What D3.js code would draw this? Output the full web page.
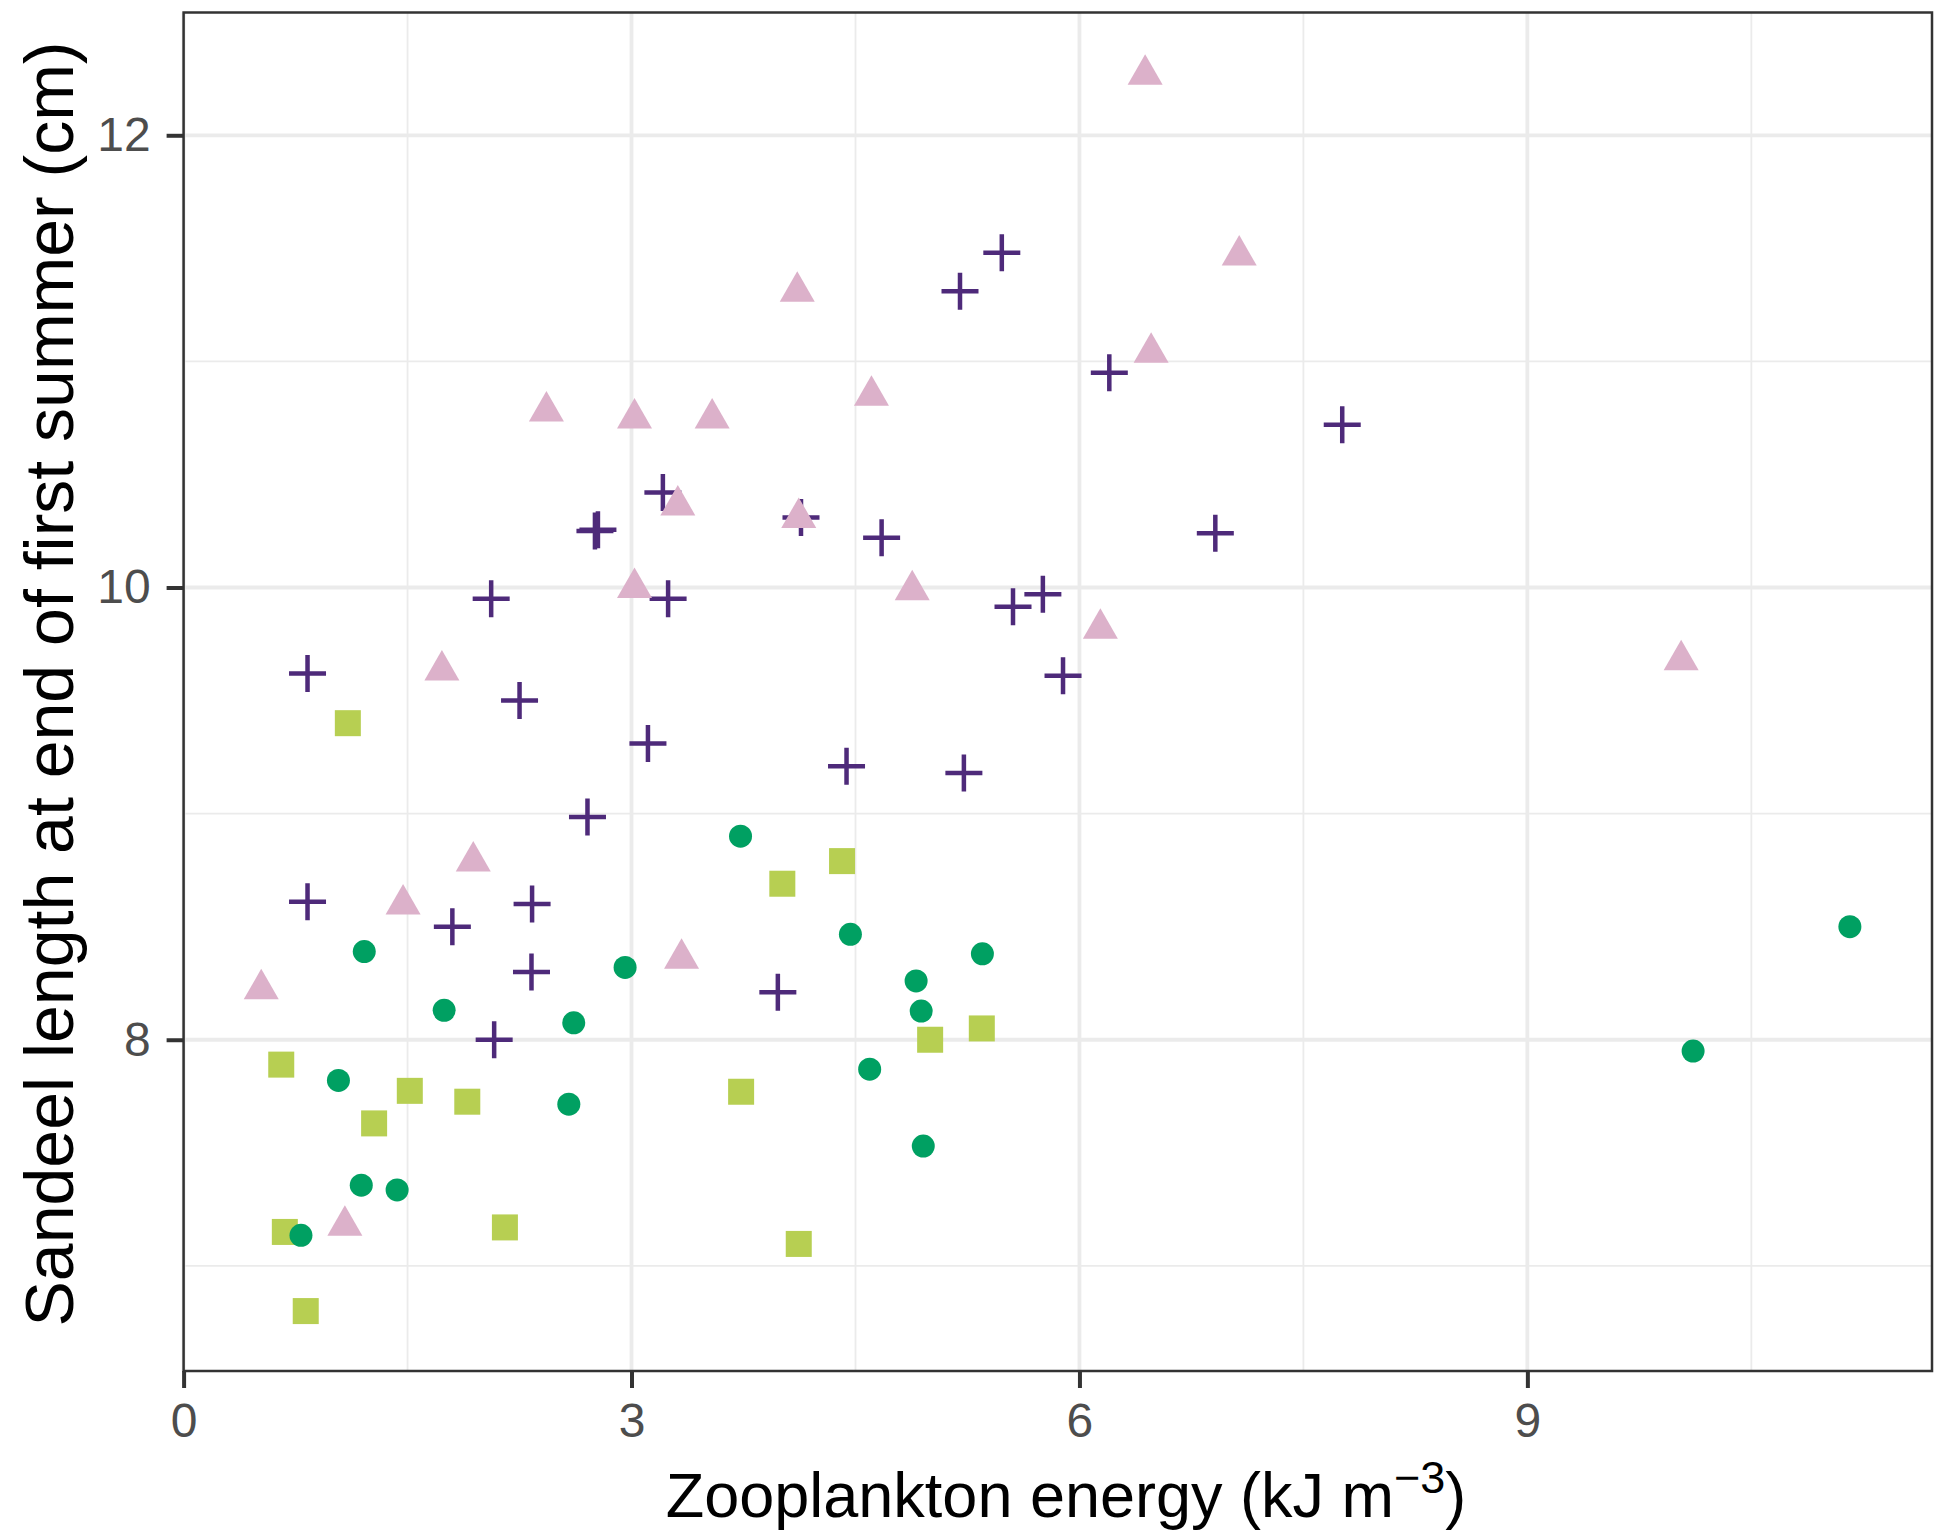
<!DOCTYPE html>
<html>
<head>
<meta charset="utf-8">
<script src="https://cdn.jsdelivr.net/npm/d3@7"></script>
<style>
  body { margin: 0; background: white; }
</style>
</head>
<body>
<div id="chart"></div>
<script>
// points per group: [zooplankton energy, sandeel length]
const crossPts = [
  [5.48, 11.48], [5.20, 11.31], [6.20, 10.95], [7.76, 10.72], [3.21, 10.42],
  [4.135, 10.31], [2.755, 10.25], [2.775, 10.255], [4.675, 10.22], [6.91, 10.24],
  [2.06, 9.95], [3.245, 9.95], [5.555, 9.915], [5.755, 9.97], [5.89, 9.61],
  [0.83, 9.62], [2.25, 9.50], [3.11, 9.31], [4.44, 9.21], [5.226, 9.18],
  [2.705, 8.985], [0.83, 8.61], [2.334, 8.60], [1.80, 8.50], [2.33, 8.30],
  [3.98, 8.21], [2.08, 8.00]
];
const squarePts = [
  [1.10, 9.40], [0.654, 7.89], [1.515, 7.774], [1.90, 7.726], [1.276, 7.63],
  [0.678, 7.15], [2.152, 7.17], [0.818, 6.80], [4.41, 8.79], [4.01, 8.69],
  [5.00, 8.00], [5.346, 8.05], [3.734, 7.77], [4.12, 7.097]
];
const circlePts = [
  [1.21, 8.39], [2.957, 8.32], [1.745, 8.13], [2.613, 8.075], [1.037, 7.82],
  [2.58, 7.715], [1.19, 7.357], [1.43, 7.336], [0.786, 7.135], [3.73, 8.90],
  [4.466, 8.466], [5.35, 8.38], [4.906, 8.26], [4.94, 8.127], [4.595, 7.87],
  [4.954, 7.53], [11.16, 8.50], [10.11, 7.95]
];
const trianglePts = [
  [6.44, 12.29], [7.07, 11.49], [4.11, 11.33], [6.48, 11.06], [2.43, 10.80],
  [3.02, 10.77], [3.54, 10.77], [4.607, 10.87], [3.31, 10.385], [4.12, 10.33],
  [3.02, 10.02], [4.88, 10.01], [6.14, 9.84], [10.03, 9.70], [1.73, 9.655],
  [1.94, 8.81], [1.47, 8.62], [0.52, 8.245], [3.335, 8.38], [1.08, 7.20]
];

const xTicks = [0, 3, 6, 9];
const xMinor = [1.5, 4.5, 7.5, 10.5];
const yTicks = [8, 10, 12];
const yMinor = [7, 9, 11];

const width = 1946;
const height = 1535;
const plotLeft = 183.6, plotRight = 1932, plotTop = 12.5, plotBottom = 1371;

const crossColor = "#4e2a7a";
const squareColor = "#b7cf52";
const circleColor = "#00a062";
const triangleColor = "#dcb1ca";
const gridColor = "#ebebeb";
const axisColor = "#333333";
const fontFamily = "'Liberation Sans', Arial, sans-serif";

const svg = d3.select("#chart")
    .append("svg")
    .attr("width", width)
    .attr("height", height);

const x = d3.scaleLinear().domain([0, 11.71]).range([plotLeft, plotRight]);
const y = d3.scaleLinear().domain([6.535, 12.543]).range([plotBottom, plotTop]);

// grid
function gridLines(vals, vertical, w) {
    svg.append("g")
        .selectAll("line")
        .data(vals)
        .enter()
        .append("line")
        .attr("x1", d => vertical ? x(d) : plotLeft)
        .attr("x2", d => vertical ? x(d) : plotRight)
        .attr("y1", d => vertical ? plotTop : y(d))
        .attr("y2", d => vertical ? plotBottom : y(d))
        .style("stroke", gridColor)
        .style("stroke-width", w);
}
gridLines(xMinor, true, 1.8);
gridLines(yMinor, false, 1.8);
gridLines(xTicks, true, 3.8);
gridLines(yTicks, false, 3.8);

// points
svg.append("g")
    .selectAll("path")
    .data(crossPts)
    .enter()
    .append("path")
    .attr("transform", d => `translate(${x(d[0])},${y(d[1])})`)
    .attr("d", "M-18.5,0H18.5M0,-18.5V18.5")
    .style("stroke", crossColor)
    .style("stroke-width", 4.5)
    .style("fill", "none");

svg.append("g")
    .selectAll("rect")
    .data(squarePts)
    .enter()
    .append("rect")
    .attr("x", d => x(d[0]) - 13)
    .attr("y", d => y(d[1]) - 13)
    .attr("width", 26)
    .attr("height", 26)
    .style("fill", squareColor);

svg.append("g")
    .selectAll("circle")
    .data(circlePts)
    .enter()
    .append("circle")
    .attr("cx", d => x(d[0]))
    .attr("cy", d => y(d[1]))
    .attr("r", 11.5)
    .style("fill", circleColor);

svg.append("g")
    .selectAll("path")
    .data(trianglePts)
    .enter()
    .append("path")
    .attr("transform", d => `translate(${x(d[0])},${y(d[1])})`)
    .attr("d", "M0,-15.5L17.5,15L-17.5,15Z")
    .style("fill", triangleColor);

// panel border
svg.append("rect")
    .attr("x", plotLeft)
    .attr("y", plotTop)
    .attr("width", plotRight - plotLeft)
    .attr("height", plotBottom - plotTop)
    .style("fill", "none")
    .style("stroke", axisColor)
    .style("stroke-width", 2.5);

// axes
const xAxis = svg.append("g")
    .attr("transform", `translate(0,${plotBottom})`)
    .call(d3.axisBottom(x).tickValues(xTicks).tickSize(17).tickPadding(15).tickFormat(d3.format("d")));
const yAxis = svg.append("g")
    .attr("transform", `translate(${plotLeft},0)`)
    .call(d3.axisLeft(y).tickValues(yTicks).tickSize(17).tickPadding(16).tickFormat(d3.format("d")));

[xAxis, yAxis].forEach(a => {
    a.select(".domain").remove();
    a.selectAll(".tick line").style("stroke", axisColor).style("stroke-width", 4);
    a.selectAll(".tick text")
        .style("fill", "#4d4d4d")
        .style("font-family", fontFamily)
        .style("font-size", "48px");
});

// axis titles
const xTitle = svg.append("text")
    .attr("x", 1066)
    .attr("y", 1517)
    .attr("text-anchor", "middle")
    .style("font-family", fontFamily)
    .style("font-size", "63px")
    .style("fill", "black");
xTitle.append("tspan").text("Zooplankton energy (kJ m");
xTitle.append("tspan").text("\u22123").attr("dy", -24).style("font-size", "45px");
xTitle.append("tspan").text(")").attr("dy", 24);

svg.append("text")
    .attr("transform", "translate(73,684) rotate(-90)")
    .attr("text-anchor", "middle")
    .style("font-family", fontFamily)
    .style("font-size", "68px")
    .style("fill", "black")
    .text("Sandeel length at end of first summer (cm)");
</script>
</body>
</html>
